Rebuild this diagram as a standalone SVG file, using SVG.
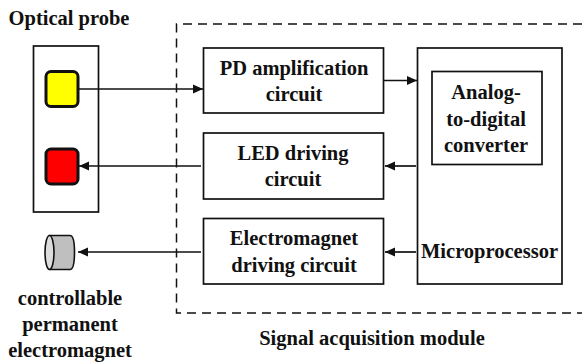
<svg xmlns="http://www.w3.org/2000/svg" width="582" height="362" viewBox="0 0 582 362">
<style>
text{font-family:"Liberation Serif","Times New Roman",serif;font-weight:bold;font-size:20.500px;fill:#111;text-anchor:middle}
.b{fill:#fff;stroke:#111;stroke-width:1.700}
.led{stroke:#111;stroke-width:3}
.c{fill:none;stroke:#111;stroke-width:1.700}
</style>
<defs>
<marker id="a" markerUnits="userSpaceOnUse" markerWidth="12" markerHeight="12" refX="10" refY="6" orient="auto"><path d="M0 1.500 L10 6 L0 10.500Z" fill="#111"/></marker>
</defs>
<rect width="582" height="362" fill="#fff"/>
<g id="module">
<path d="M582 24 H176.500 V313 H582" fill="none" stroke="#111" stroke-width="1.500" stroke-dasharray="9 6"/>
<text x="372" y="345">Signal  acquisition module</text>
</g>
<g id="probe">
<rect class="b" x="33.500" y="46" width="65" height="166"/>
<text x="69" y="25">Optical probe</text>
</g>
<g id="yellow-led"><rect class="led" x="46" y="71.500" width="32" height="35" rx="5" fill="#ff0"/></g>
<g id="red-led"><rect class="led" x="46" y="149" width="32" height="35" rx="5" fill="#f00"/></g>
<g id="magnet">
<path d="M50 235.500 H70 Q74.500 235.500 74.500 252 Q74.500 269.500 70 269.500 H50Z" fill="#bfbfbf" stroke="#111" stroke-width="1.600"/>
<ellipse cx="49.500" cy="252.500" rx="4.500" ry="17" fill="#ddd" stroke="#111" stroke-width="1.600"/>
<text x="70" y="305">controllable</text>
<text x="70" y="331">permanent</text>
<text x="70" y="357">electromagnet</text>
</g>
<g id="pd"><rect class="b" x="203.500" y="48" width="180" height="65"/>
<text x="294" y="75">PD amplification</text><text x="294" y="101">circuit</text></g>
<g id="led-driving"><rect class="b" x="203.500" y="133" width="180" height="66"/>
<text x="293" y="160">LED driving</text><text x="293" y="186">circuit</text></g>
<g id="em-driving"><rect class="b" x="203.500" y="218.500" width="180" height="65.500"/>
<text x="294" y="245">Electromagnet</text><text x="294" y="272">driving  circuit</text></g>
<g id="microprocessor"><rect class="b" x="417.500" y="48" width="144.500" height="236"/>
<text x="489.500" y="258">Microprocessor</text></g>
<g id="adc"><rect class="b" x="432" y="71.500" width="110" height="93"/>
<text x="486" y="99">Analog-</text><text x="486" y="126">to-digital</text><text x="486" y="152">converter</text></g>
<g id="connectors">
<path class="c" d="M78 89 H203" marker-end="url(#a)"/>
<path class="c" d="M201 166 H79" marker-end="url(#a)"/>
<path class="c" d="M201 252 H78" marker-end="url(#a)"/>
<path class="c" d="M384 80.500 H417" marker-end="url(#a)"/>
<path class="c" d="M416 166 H385" marker-end="url(#a)"/>
<path class="c" d="M416 252 H385" marker-end="url(#a)"/>
</g>
</svg>
